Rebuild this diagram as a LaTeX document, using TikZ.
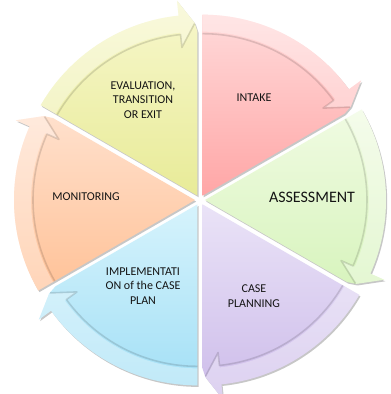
\documentclass[tikz,border=0pt]{standalone}
\usepackage{fontspec}
\setmainfont{Carlito}
\definecolor{yelT}{HTML}{F7F7CC}\definecolor{yelB}{HTML}{E8EB98}
\definecolor{pinkT}{HTML}{FFDADA}\definecolor{pinkB}{HTML}{FFA6A6}
\definecolor{grnT}{HTML}{F0FBE2}\definecolor{grnB}{HTML}{D8F4BE}
\definecolor{lavT}{HTML}{EAE3F7}\definecolor{lavB}{HTML}{CDBCEA}
\definecolor{bluT}{HTML}{D6F3FC}\definecolor{bluB}{HTML}{A4E0F6}
\definecolor{pchT}{HTML}{FFE0CC}\definecolor{pchB}{HTML}{FFC298}
\definecolor{txt}{HTML}{141414}
\newcommand\segpath[1]{(0,0) -- ({#1}:181pt) arc[start angle={#1},end angle={#1-54},radius=181pt] -- ({#1-54}:196pt) -- ({#1-59}:173pt) -- ({#1-60}:164pt) -- cycle}
\newcommand\bandpath[1]{({#1}:164pt) arc[start angle={#1},end angle={#1-54},radius=164pt] -- ({#1-54}:150pt) -- ({#1-59}:173pt) -- ({#1-54}:196pt) -- ({#1-54}:181pt) arc[start angle={#1-54},end angle={#1},radius=181pt] -- cycle}
\newcommand\cycleseg[3]{%
  \begin{scope}[shift={({#1-30}:5pt)}]
    \fill[black,opacity=0.22,shift={(1.2pt,-1.6pt)}] \segpath{#1};
    \shade[top color=#2,bottom color=#3] \segpath{#1};
    \fill[white,opacity=0.32] \bandpath{#1};
    \draw[black,opacity=0.13,line width=1.6pt,line join=round] ({#1}:162pt) arc[start angle={#1},end angle={#1-54},radius=162pt] -- ({#1-54}:149pt) -- ({#1-59}:172pt);
  \end{scope}}
\tikzset{lbl/.style={text=txt,align=center,font=\fontsize{12}{14.5}\selectfont,inner sep=0pt}}
\begin{document}
\begin{tikzpicture}[x=1pt,y=1pt]
\useasboundingbox[fill=white] (-200,-194) rectangle (191,200);
\cycleseg{90}{pinkT}{pinkB}
\cycleseg{30}{grnT}{grnB}
\cycleseg{-30}{lavT}{lavB}
\cycleseg{-90}{bluT}{bluB}
\cycleseg{-150}{pchT}{pchB}
\cycleseg{150}{yelT}{yelB}
\node[lbl] (eval) at (-57,100) {EVALUATION,\\TRANSITION\\OR EXIT};
\node[lbl] (intake) at (54,102) {INTAKE};
\node[lbl,font=\fontsize{16}{19}\selectfont] (assess) at (112,3) {ASSESSMENT};
\node[lbl] (plan) at (54,-96) {CASE\\PLANNING};
\node[lbl] (impl) at (-57,-86) {IMPLEMENTATI\\ON of the CASE\\PLAN};
\node[lbl] (mon) at (-114,3) {MONITORING};
\end{tikzpicture}
\end{document}
